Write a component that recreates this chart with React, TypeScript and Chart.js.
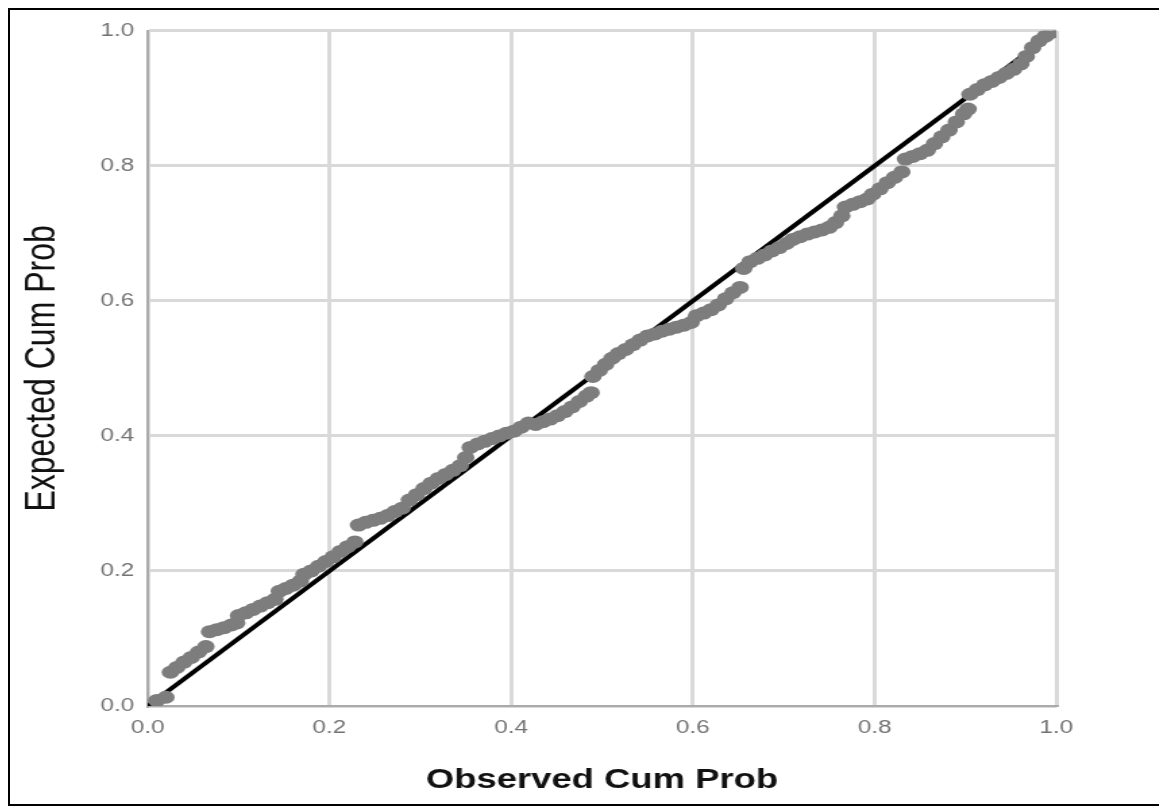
import React, { useEffect, useRef } from 'react';
import { Chart, registerables } from 'chart.js';

Chart.register(...registerables);

// Observed cumulative probability (x) of each case
const observed = [
  0.010, 0.020,
  0.025, 0.032, 0.040, 0.048, 0.056, 0.064,
  0.068, 0.076, 0.084, 0.092, 0.098,
  0.100, 0.108, 0.116, 0.124, 0.132, 0.140,
  0.145, 0.152, 0.160, 0.168,
  0.172, 0.180, 0.188, 0.196, 0.204, 0.212, 0.220, 0.228,
  0.232, 0.240, 0.248, 0.256, 0.264, 0.272, 0.280,
  0.288, 0.296, 0.304, 0.312, 0.320, 0.328, 0.336, 0.344,
  0.350, 0.355, 0.363, 0.371, 0.379, 0.387, 0.395, 0.403, 0.411, 0.419,
  0.427, 0.435, 0.443, 0.451, 0.459, 0.467, 0.475, 0.483, 0.488,
  0.490, 0.497, 0.504, 0.511, 0.518, 0.526, 0.534, 0.542, 0.550,
  0.558, 0.566, 0.574, 0.582, 0.590, 0.598,
  0.604, 0.612, 0.620, 0.628, 0.636, 0.644, 0.652,
  0.656, 0.663, 0.671, 0.679, 0.687, 0.695, 0.703,
  0.710, 0.718, 0.726, 0.734, 0.742, 0.750, 0.757, 0.764,
  0.768, 0.776, 0.784, 0.792,
  0.798, 0.806, 0.814, 0.822, 0.830,
  0.834, 0.842, 0.850, 0.858, 0.866, 0.874, 0.882, 0.890, 0.898, 0.903,
  0.905, 0.913, 0.921, 0.929, 0.937, 0.945, 0.953, 0.961, 0.967, 0.974, 0.981, 0.988, 0.995,
];

// Expected cumulative probability (y) of each case
const expected = [
  0.008, 0.013,
  0.050, 0.057, 0.065, 0.072, 0.080, 0.088,
  0.110, 0.113, 0.116, 0.120, 0.123,
  0.134, 0.138, 0.143, 0.148, 0.153, 0.158,
  0.170, 0.174, 0.179, 0.185,
  0.195, 0.200, 0.207, 0.214, 0.221, 0.229, 0.236, 0.243,
  0.268, 0.272, 0.275, 0.278, 0.282, 0.288, 0.293,
  0.305, 0.313, 0.322, 0.330, 0.337, 0.343, 0.349, 0.356,
  0.368, 0.383, 0.388, 0.392, 0.396, 0.400, 0.404, 0.407, 0.413, 0.419,
  0.417, 0.421, 0.425, 0.430, 0.436, 0.443, 0.451, 0.459, 0.464,
  0.488, 0.497, 0.506, 0.515, 0.522, 0.528, 0.535, 0.542, 0.548,
  0.551, 0.555, 0.558, 0.561, 0.564, 0.568,
  0.578, 0.582, 0.587, 0.594, 0.603, 0.612, 0.620,
  0.648, 0.658, 0.663, 0.668, 0.674, 0.679, 0.685,
  0.691, 0.695, 0.699, 0.702, 0.705, 0.709, 0.716, 0.726,
  0.739, 0.743, 0.747, 0.751,
  0.758, 0.766, 0.775, 0.783, 0.791,
  0.810, 0.814, 0.818, 0.823, 0.833, 0.843, 0.853, 0.865, 0.877, 0.884,
  0.906, 0.913, 0.920, 0.925, 0.931, 0.937, 0.943, 0.951, 0.962, 0.975, 0.985, 0.992, 0.998,
];

// Reference (diagonal) line
const refLineX = [0, 1];
const refLineY = [0, 1];

const tickValues = [0, 0.2, 0.4, 0.6, 0.8, 1.0];
const tickLabels = ['0.0', '0.2', '0.4', '0.6', '0.8', '1.0'];
const xTitle = 'Observed Cum Prob';
const yTitle = 'Expected Cum Prob';

const STRETCH = 1.35;
const CANVAS_W = 855;
const CANVAS_H = 794;
const FONT = '"Liberation Sans", Arial, Helvetica, sans-serif';

export default function App() {
  const canvasRef = useRef<HTMLCanvasElement | null>(null);

  useEffect(() => {
    document.documentElement.style.overflow = 'hidden';
    const canvas = canvasRef.current;
    if (!canvas) return;

    const points = observed.map((x, i) => ({ x, y: expected[i] }));
    const line = refLineX.map((x, i) => ({ x, y: refLineY[i] }));

    const axisCommon = (title: string, bold: boolean, size: number) => ({
      type: 'linear' as const,
      min: 0,
      max: 1,
      afterBuildTicks: (s: any) => {
        s.ticks = tickValues.map((v) => ({ value: v }));
      },
      grid: { color: '#d9d9d9', lineWidth: 3, drawTicks: false },
      border: { color: '#aaaaaa', width: 2 },
      ticks: {
        color: '#737373',
        font: { family: FONT, size: 18 },
        autoSkip: false,
        maxRotation: 0,
        callback: (_v: any, i: number) => tickLabels[i],
      },
      title: {
        display: true,
        text: title,
        color: '#111111',
        font: { family: FONT, size, weight: bold ? 'bold' : 'normal' },
      },
    });

    const xAxis: any = axisCommon(xTitle, true, 27);
    xAxis.afterFit = (s: any) => { s.height = 98; };
    xAxis.ticks.padding = 11;
    xAxis.title.padding = { top: 4, bottom: 7 };

    const yAxis: any = axisCommon(yTitle, false, 32);
    yAxis.afterFit = (s: any) => { s.width = 102; };
    yAxis.ticks.padding = 10;
    yAxis.title.padding = { top: 5, bottom: 4 };

    const chart = new Chart(canvas, {
      type: 'scatter',
      data: {
        datasets: [
          {
            label: 'Observed',
            data: points,
            pointRadius: 6.5,
            pointBorderWidth: 0,
            pointBackgroundColor: '#7d7d7d',
            pointBorderColor: '#7d7d7d',
            showLine: false,
          },
          {
            type: 'line',
            label: 'Reference',
            data: line,
            borderColor: '#000000',
            borderWidth: 4,
            pointRadius: 0,
            fill: false,
          } as any,
        ],
      },
      options: {
        animation: false,
        responsive: false,
        events: [],
        layout: { padding: { top: 10, right: 80, left: 0, bottom: 0 } },
        plugins: {
          legend: { display: false },
          tooltip: { enabled: false },
          title: { display: false },
        },
        scales: { x: xAxis, y: yAxis },
      },
    });

    return () => {
      chart.destroy();
    };
  }, []);

  return (
    <div
      style={{
        width: 1158,
        height: 798,
        border: '2px solid #000',
        boxSizing: 'border-box',
        overflow: 'hidden',
        background: '#fff',
        position: 'relative',
      }}
    >
      <div
        style={{
          width: CANVAS_W,
          height: CANVAS_H,
          transform: `scaleX(${STRETCH})`,
          transformOrigin: '0 0',
        }}
      >
        <canvas ref={canvasRef} width={CANVAS_W} height={CANVAS_H} />
      </div>
    </div>
  );
}
